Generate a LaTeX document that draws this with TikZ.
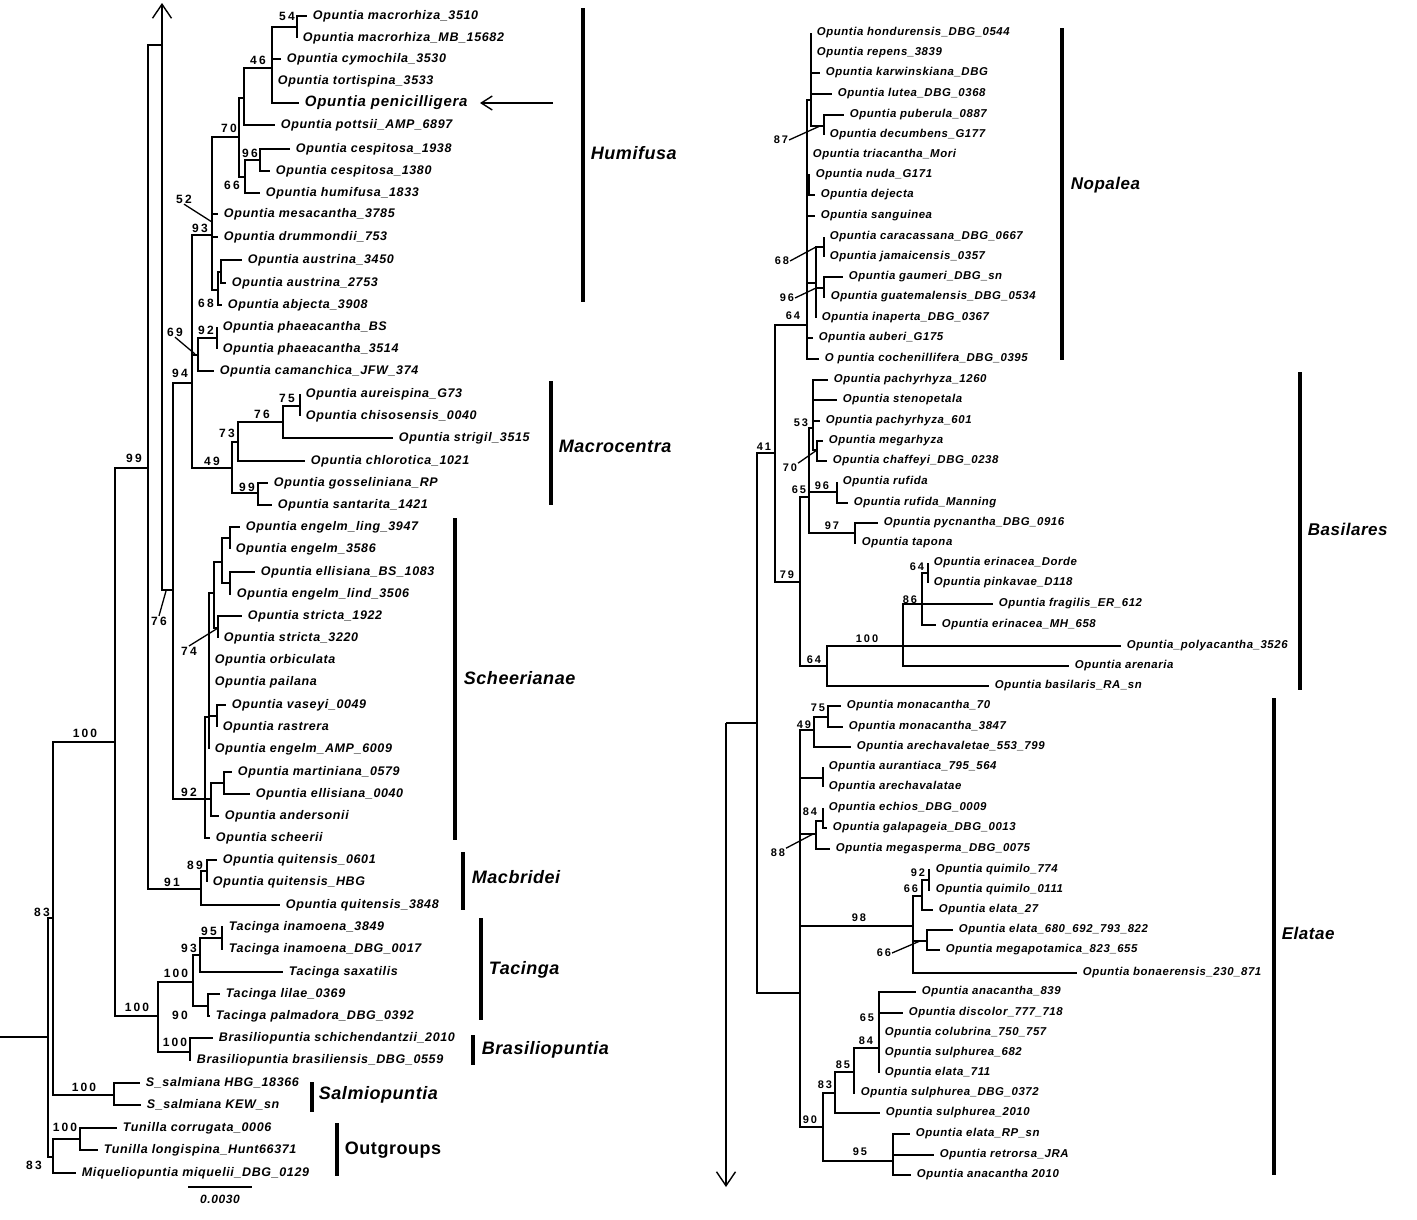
\documentclass[tikz,border=0pt]{standalone}
\usepackage{fontspec}
\setmainfont{Liberation Sans}
\newfontfamily\taxfont{Liberation Sans}[LetterSpace=5]
\newfontfamily\cladefont{Liberation Sans}[LetterSpace=3]
\newfontfamily\numfont{Liberation Sans}[LetterSpace=18]
\usetikzlibrary{arrows.meta}
\tikzset{
  tx/.style={anchor=west, inner xsep=5pt, inner ysep=0pt, font=\taxfont\bfseries\itshape\fontsize{12.5}{12.5}\selectfont},
  rtx/.style={tx, font=\taxfont\bfseries\itshape\fontsize{11.4}{11.4}\selectfont},
  bs/.style={inner sep=0pt, font=\numfont\bfseries\fontsize{12}{12}\selectfont},
  rbs/.style={bs, font=\numfont\bfseries\fontsize{11}{11}\selectfont},
  clade/.style={anchor=west, inner sep=0pt, font=\cladefont\bfseries\itshape\fontsize{18}{18}\selectfont},
  rclade/.style={clade, font=\cladefont\bfseries\itshape\fontsize{17}{17}\selectfont},
  bar/.style={line width=3.2pt},
  lead/.style={line width=1.3pt},
  barb/.style={-{Straight Barb[length=14pt,width=19pt,line width=1.4pt]}}
}
\begin{document}
\begin{tikzpicture}[x=1pt, y=-1pt, line width=1.8pt]
    \useasboundingbox (0,0) rectangle (1417,1219);
    % left tree, backbone
    \coordinate (root) at (0,1037);
    \coordinate (LA) at (48,1037);
    \coordinate (LB) at (53,918);
    \coordinate (LO) at (53,1157);
    \coordinate (LC) at (115,742);
    \coordinate (LS) at (114,1095);
    \coordinate (LD) at (148,468);
    \coordinate (LT) at (158,1016);
    \coordinate (LE) at (162,45);
    \coordinate (Ltop) at (162,3);
    \coordinate (LM) at (201,889);
    \coordinate (LF) at (173,590);
    \coordinate (LG) at (192,383);
    \coordinate (LH) at (212,235);
    \coordinate (L70) at (239,137);
    \coordinate (L244) at (244,98);
    \coordinate (L46) at (272,68);
    \coordinate (L54) at (297,27);
    \coordinate (L66) at (245,177);
    \coordinate (L96) at (260,160);
    \coordinate (L68) at (218,290);
    \coordinate (Laus) at (221,272);
    \coordinate (L69) at (198,355);
    \coordinate (L92p) at (217,338);
    \coordinate (L49) at (232,468);
    \coordinate (L73) at (238,442);
    \coordinate (L76m) at (283,422);
    \coordinate (L75) at (300,406);
    \coordinate (L99) at (258,493);
    \coordinate (L92s) at (205,799);
    \coordinate (Lsch1) at (209,717);
    \coordinate (Lsch2) at (214,593);
    \coordinate (Lsch3) at (222,562);
    \coordinate (Lling) at (230,538);
    \coordinate (Lell) at (230,583);
    \coordinate (L74) at (218,628);
    \coordinate (Lvas) at (217,716);
    \coordinate (Lmart) at (211,799);
    \coordinate (Lm2) at (224,783);
    \coordinate (L89) at (207,871);
    \coordinate (LTac) at (193,982);
    \coordinate (L93) at (200,955);
    \coordinate (L95) at (222,938);
    \coordinate (L90) at (208,1006);
    \coordinate (LBra) at (190,1052);
    \coordinate (LTun) at (80,1139);

    % left tree, taxa
    \node[tx] (mac1) at (307,16) {Opuntia macrorhiza\_3510};
    \node[tx] (mac2) at (297,38) {Opuntia macrorhiza\_MB\_15682};
    \node[tx] (cym) at (281,59) {Opuntia cymochila\_3530};
    \node[tx] (tor) at (272,81) {Opuntia tortispina\_3533};
    \node[tx, font=\taxfont\bfseries\itshape\fontsize{15}{15}\selectfont] (pen) at (299,103) {Opuntia penicilligera};
    \node[tx] (pot) at (275,125) {Opuntia pottsii\_AMP\_6897};
    \node[tx] (ces1) at (290,149) {Opuntia cespitosa\_1938};
    \node[tx] (ces2) at (270,171) {Opuntia cespitosa\_1380};
    \node[tx] (hum) at (260,193) {Opuntia humifusa\_1833};
    \node[tx] (mes) at (218,214) {Opuntia mesacantha\_3785};
    \node[tx] (dru) at (218,237) {Opuntia drummondii\_753};
    \node[tx] (aus1) at (242,260) {Opuntia austrina\_3450};
    \node[tx] (aus2) at (226,283) {Opuntia austrina\_2753};
    \node[tx] (abj) at (222,305) {Opuntia abjecta\_3908};
    \node[tx] (pha1) at (217,327) {Opuntia phaeacantha\_BS};
    \node[tx] (pha2) at (217,349) {Opuntia phaeacantha\_3514};
    \node[tx] (cam) at (214,371) {Opuntia camanchica\_JFW\_374};
    \node[tx] (aur) at (300,394) {Opuntia aureispina\_G73};
    \node[tx] (chi) at (300,416) {Opuntia chisosensis\_0040};
    \node[tx] (str) at (393,438) {Opuntia strigil\_3515};
    \node[tx] (chl) at (305,461) {Opuntia chlorotica\_1021};
    \node[tx] (gos) at (268,483) {Opuntia gosseliniana\_RP};
    \node[tx] (san) at (272,505) {Opuntia santarita\_1421};
    \node[tx] (eng1) at (240,527) {Opuntia engelm\_ling\_3947};
    \node[tx] (eng2) at (230,549) {Opuntia engelm\_3586};
    \node[tx] (ell1) at (255,572) {Opuntia ellisiana\_BS\_1083};
    \node[tx] (eng3) at (231,594) {Opuntia engelm\_lind\_3506};
    \node[tx] (stc1) at (242,616) {Opuntia stricta\_1922};
    \node[tx] (stc2) at (218,638) {Opuntia stricta\_3220};
    \node[tx] (orb) at (209,660) {Opuntia orbiculata};
    \node[tx] (pai) at (209,682) {Opuntia pailana};
    \node[tx] (vas) at (226,705) {Opuntia vaseyi\_0049};
    \node[tx] (ras) at (217,727) {Opuntia rastrera};
    \node[tx] (eng4) at (209,749) {Opuntia engelm\_AMP\_6009};
    \node[tx] (mar) at (232,772) {Opuntia martiniana\_0579};
    \node[tx] (ell2) at (250,794) {Opuntia ellisiana\_0040};
    \node[tx] (and) at (219,816) {Opuntia andersonii};
    \node[tx] (sch) at (210,838) {Opuntia scheerii};
    \node[tx] (qui1) at (217,860) {Opuntia quitensis\_0601};
    \node[tx] (qui2) at (207,882) {Opuntia quitensis\_HBG};
    \node[tx] (qui3) at (280,905) {Opuntia quitensis\_3848};
    \node[tx] (tac1) at (223,927) {Tacinga inamoena\_3849};
    \node[tx] (tac2) at (223,949) {Tacinga inamoena\_DBG\_0017};
    \node[tx] (tac3) at (283,972) {Tacinga saxatilis};
    \node[tx] (tac4) at (220,994) {Tacinga lilae\_0369};
    \node[tx] (tac5) at (210,1016) {Tacinga palmadora\_DBG\_0392};
    \node[tx] (bra1) at (213,1038) {Brasiliopuntia schichendantzii\_2010};
    \node[tx] (bra2) at (191,1060) {Brasiliopuntia brasiliensis\_DBG\_0559};
    \node[tx] (sal1) at (140,1083) {S\_salmiana HBG\_18366};
    \node[tx] (sal2) at (141,1105) {S\_salmiana KEW\_sn};
    \node[tx] (tun1) at (117,1128) {Tunilla corrugata\_0006};
    \node[tx] (tun2) at (98,1150) {Tunilla longispina\_Hunt66371};
    \node[tx] (miq) at (76,1173) {Miqueliopuntia miquelii\_DBG\_0129};

    % left tree, branches
    \draw (root) -- (LA);
    \draw (LA) |- (LB) (LA) |- (LO);
    \draw (LB) |- (LC) (LB) |- (LS);
    \draw (LC) |- (LD) (LC) |- (LT);
    \draw (LD) |- (LE) (LD) |- (LM);
    \draw[barb] (LE) -- (Ltop);
    \draw (LE) |- (LF);
    \draw (LF) |- (LG) (LF) |- (L92s);
    \draw (LG) |- (LH) (LG) |- (L69) (LG) |- (L49);
    \draw (LH) |- (L70) (LH) |- (mes.west) (LH) |- (dru.west) (LH) |- (L68);
    \draw (L70) |- (L244) (L70) |- (L66);
    \draw (L244) |- (L46) (L244) |- (pot.west);
    \draw (L46) |- (L54) (L46) |- (cym.west) (L46) |- (tor.west) (L46) |- (pen.west);
    \draw (L54) |- (mac1.west) (L54) |- (mac2.west);
    \draw (L66) |- (L96) (L66) |- (hum.west);
    \draw (L96) |- (ces1.west) (L96) |- (ces2.west);
    \draw (L68) |- (Laus) (L68) |- (abj.west);
    \draw (Laus) |- (aus1.west) (Laus) |- (aus2.west);
    \draw (L69) |- (L92p) (L69) |- (cam.west);
    \draw (L92p) |- (pha1.west) (L92p) |- (pha2.west);
    \draw (L49) |- (L73) (L49) |- (L99);
    \draw (L73) |- (L76m) (L73) |- (chl.west);
    \draw (L76m) |- (L75) (L76m) |- (str.west);
    \draw (L75) |- (aur.west) (L75) |- (chi.west);
    \draw (L99) |- (gos.west) (L99) |- (san.west);
    \draw (L92s) |- (Lsch1) (L92s) |- (Lmart) (L92s) |- (sch.west);
    \draw (Lsch1) |- (Lsch2) (Lsch1) |- (orb.west) (Lsch1) |- (pai.west) (Lsch1) |- (Lvas) (Lsch1) |- (eng4.west);
    \draw (Lsch2) |- (Lsch3) (Lsch2) |- (L74);
    \draw (Lsch3) |- (Lling) (Lsch3) |- (Lell);
    \draw (Lling) |- (eng1.west) (Lling) |- (eng2.west);
    \draw (Lell) |- (ell1.west) (Lell) |- (eng3.west);
    \draw (L74) |- (stc1.west) (L74) |- (stc2.west);
    \draw (Lvas) |- (vas.west) (Lvas) |- (ras.west);
    \draw (Lmart) |- (Lm2) (Lmart) |- (and.west);
    \draw (Lm2) |- (mar.west) (Lm2) |- (ell2.west);
    \draw (LM) |- (L89) (LM) |- (qui3.west);
    \draw (L89) |- (qui1.west) (L89) |- (qui2.west);
    \draw (LT) |- (LTac) (LT) |- (LBra);
    \draw (LTac) |- (L93) (LTac) |- (L90);
    \draw (L93) |- (L95) (L93) |- (tac3.west);
    \draw (L95) |- (tac1.west) (L95) |- (tac2.west);
    \draw (L90) |- (tac4.west) (L90) |- (tac5.west);
    \draw (LBra) |- (bra1.west) (LBra) |- (bra2.west);
    \draw (LS) |- (sal1.west) (LS) |- (sal2.west);
    \draw (LO) |- (LTun) (LO) |- (miq.west);
    \draw (LTun) |- (tun1.west) (LTun) |- (tun2.west);

    % left tree, support values
    \node[bs] (b54) at (287,16) {54};
    \node[bs] (b46) at (258,60) {46};
    \node[bs] (b70) at (229,128) {70};
    \node[bs] (b96) at (250,153) {96};
    \node[bs] (b66) at (232,185) {66};
    \node[bs] (b52) at (184,199) {52};
    \node[bs] (b93) at (200,228) {93};
    \node[bs] (b68) at (206,303) {68};
    \node[bs] (b69) at (175,332) {69};
    \node[bs] (b92p) at (206,330) {92};
    \node[bs] (b94) at (180,373) {94};
    \node[bs] (b75) at (287,398) {75};
    \node[bs] (b76m) at (262,414) {76};
    \node[bs] (b73) at (227,433) {73};
    \node[bs] (b49) at (212,461) {49};
    \node[bs] (b99) at (247,487) {99};
    \node[bs] (b99b) at (134,458) {99};
    \node[bs] (b76) at (159,621) {76};
    \node[bs] (b74) at (189,651) {74};
    \node[bs] (b100a) at (85,733) {100};
    \node[bs] (b92s) at (189,792) {92};
    \node[bs] (b89) at (195,865) {89};
    \node[bs] (b91) at (172,882) {91};
    \node[bs] (b83a) at (42,912) {83};
    \node[bs] (b95) at (209,931) {95};
    \node[bs] (b93t) at (189,948) {93};
    \node[bs] (b100t) at (176,973) {100};
    \node[bs] (b100b) at (137,1007) {100};
    \node[bs] (b90) at (180,1015) {90};
    \node[bs] (b100r) at (175,1042) {100};
    \node[bs] (b100s) at (84,1087) {100};
    \node[bs] (b100o) at (65,1127) {100};
    \node[bs] (b83b) at (34,1165) {83};
    \coordinate (k52) at (212,222);
    \coordinate (k69) at (195,354);
    \coordinate (k76) at (166,591);
    \coordinate (k74) at (218,628);
    \draw[lead] (b52.south) -- (k52);
    \draw[lead] (b69.south) -- (k69);
    \draw[lead] (b76.north) -- (k76);
    \draw[lead] (b74.north) -- (k74);

    % scale bar
    \coordinate (sb1) at (188,1187);
    \coordinate (sb2) at (252,1187);
    \draw (sb1) -- (sb2);
    \node[bs, font=\taxfont\bfseries\itshape\fontsize{12}{12}\selectfont] (sbl) at (220,1199) {0.0030};

    % right tree, backbone
    \coordinate (R0) at (726,723);
    \coordinate (Rbot) at (726,1187);
    \coordinate (R1) at (757,723);
    \coordinate (R41) at (775,453);
    \coordinate (Rel) at (800,993);
    \coordinate (RNop) at (807,325);
    \coordinate (R79) at (800,582);
    \coordinate (R811) at (811,100);
    \coordinate (R87) at (824,126);
    \coordinate (Rnuda) at (809,186);
    \coordinate (R816) at (816,283);
    \coordinate (R68) at (824,247);
    \coordinate (R96) at (824,288);
    \coordinate (R65) at (809,497);
    \coordinate (R53) at (813,428);
    \coordinate (R70) at (817,450);
    \coordinate (R96b) at (837,492);
    \coordinate (R97) at (855,533);
    \coordinate (R64b) at (827,666);
    \coordinate (R100) at (903,646);
    \coordinate (R86) at (922,604);
    \coordinate (R64c) at (928,573);
    \coordinate (R49) at (814,730);
    \coordinate (R75) at (828,717);
    \coordinate (Raur) at (823,778);
    \coordinate (R88) at (816,834);
    \coordinate (R84) at (823,821);
    \coordinate (R98) at (913,926);
    \coordinate (R66a) at (922,896);
    \coordinate (R92) at (929,880);
    \coordinate (R66b) at (927,941);
    \coordinate (R90) at (823,1127);
    \coordinate (R83) at (835,1093);
    \coordinate (R85) at (854,1072);
    \coordinate (R84b) at (879,1048);
    \coordinate (R95) at (893,1161);

    % right tree, taxa
    \node[rtx] (hon) at (811,33) {Opuntia hondurensis\_DBG\_0544};
    \node[rtx] (rep) at (811,53) {Opuntia repens\_3839};
    \node[rtx] (kar) at (820,73) {Opuntia karwinskiana\_DBG};
    \node[rtx] (lut) at (832,94) {Opuntia lutea\_DBG\_0368};
    \node[rtx] (pub) at (844,115) {Opuntia puberula\_0887};
    \node[rtx] (dec) at (824,135) {Opuntia decumbens\_G177};
    \node[rtx] (tri) at (807,155) {Opuntia triacantha\_Mori};
    \node[rtx] (nud) at (810,175) {Opuntia nuda\_G171};
    \node[rtx] (dej) at (815,195) {Opuntia dejecta};
    \node[rtx] (sang) at (815,216) {Opuntia sanguinea};
    \node[rtx] (car) at (824,237) {Opuntia caracassana\_DBG\_0667};
    \node[rtx] (jam) at (824,257) {Opuntia jamaicensis\_0357};
    \node[rtx] (gau) at (843,277) {Opuntia gaumeri\_DBG\_sn};
    \node[rtx] (gua) at (825,297) {Opuntia guatemalensis\_DBG\_0534};
    \node[rtx] (ina) at (816,318) {Opuntia inaperta\_DBG\_0367};
    \node[rtx] (aub) at (813,338) {Opuntia auberi\_G175};
    \node[rtx] (coc) at (819,359) {O puntia cochenillifera\_DBG\_0395};
    \node[rtx] (pac1) at (828,380) {Opuntia pachyrhyza\_1260};
    \node[rtx] (ste) at (837,400) {Opuntia stenopetala};
    \node[rtx] (pac2) at (820,421) {Opuntia pachyrhyza\_601};
    \node[rtx] (meg) at (823,441) {Opuntia megarhyza};
    \node[rtx] (cha) at (827,461) {Opuntia chaffeyi\_DBG\_0238};
    \node[rtx] (ruf1) at (837,482) {Opuntia rufida};
    \node[rtx] (ruf2) at (848,503) {Opuntia rufida\_Manning};
    \node[rtx] (pyc) at (878,523) {Opuntia pycnantha\_DBG\_0916};
    \node[rtx] (tap) at (856,543) {Opuntia tapona};
    \node[rtx] (eri1) at (928,563) {Opuntia erinacea\_Dorde};
    \node[rtx] (pin) at (928,583) {Opuntia pinkavae\_D118};
    \node[rtx] (fra) at (993,604) {Opuntia fragilis\_ER\_612};
    \node[rtx] (eri2) at (936,625) {Opuntia erinacea\_MH\_658};
    \node[rtx] (pol) at (1121,646) {Opuntia\_polyacantha\_3526};
    \node[rtx] (are) at (1069,666) {Opuntia arenaria};
    \node[rtx] (bas) at (989,686) {Opuntia basilaris\_RA\_sn};
    \node[rtx] (mon1) at (841,706) {Opuntia monacantha\_70};
    \node[rtx] (mon2) at (843,727) {Opuntia monacantha\_3847};
    \node[rtx] (arc1) at (851,747) {Opuntia arechavaletae\_553\_799};
    \node[rtx] (aua) at (823,767) {Opuntia aurantiaca\_795\_564};
    \node[rtx] (arc2) at (823,787) {Opuntia arechavalatae};
    \node[rtx] (ech) at (823,808) {Opuntia echios\_DBG\_0009};
    \node[rtx] (gal) at (827,828) {Opuntia galapageia\_DBG\_0013};
    \node[rtx] (mgs) at (830,849) {Opuntia megasperma\_DBG\_0075};
    \node[rtx] (qum1) at (930,870) {Opuntia quimilo\_774};
    \node[rtx] (qum2) at (930,890) {Opuntia quimilo\_0111};
    \node[rtx] (ela1) at (933,910) {Opuntia elata\_27};
    \node[rtx] (ela2) at (953,930) {Opuntia elata\_680\_692\_793\_822};
    \node[rtx] (mgp) at (940,950) {Opuntia megapotamica\_823\_655};
    \node[rtx] (bon) at (1077,973) {Opuntia bonaerensis\_230\_871};
    \node[rtx] (ana1) at (916,992) {Opuntia anacantha\_839};
    \node[rtx] (dis) at (903,1013) {Opuntia discolor\_777\_718};
    \node[rtx] (col) at (879,1033) {Opuntia colubrina\_750\_757};
    \node[rtx] (sul1) at (879,1053) {Opuntia sulphurea\_682};
    \node[rtx] (ela3) at (879,1073) {Opuntia elata\_711};
    \node[rtx] (sul2) at (855,1093) {Opuntia sulphurea\_DBG\_0372};
    \node[rtx] (sul3) at (880,1113) {Opuntia sulphurea\_2010};
    \node[rtx] (ela4) at (910,1134) {Opuntia elata\_RP\_sn};
    \node[rtx] (ret) at (934,1155) {Opuntia retrorsa\_JRA};
    \node[rtx] (ana2) at (911,1175) {Opuntia anacantha 2010};

    % right tree, branches
    \draw (R0) -- (R1);
    \draw[barb] (R0) -- (Rbot);
    \draw (R1) |- (R41) (R1) |- (Rel);
    \draw (R41) |- (RNop) (R41) |- (R79);
    \draw (RNop) |- (R811) (RNop) |- (tri.west) (RNop) |- (Rnuda) (RNop) |- (sang.west) (RNop) |- (R816) (RNop) |- (aub.west) (RNop) |- (coc.west);
    \draw (R811) |- (hon.west) (R811) |- (rep.west) (R811) |- (kar.west) (R811) |- (lut.west) (R811) |- (R87);
    \draw (R87) |- (pub.west) (R87) |- (dec.west);
    \draw (Rnuda) |- (nud.west) (Rnuda) |- (dej.west);
    \draw (R816) |- (R68) (R816) |- (R96) (R816) |- (ina.west);
    \draw (R68) |- (car.west) (R68) |- (jam.west);
    \draw (R96) |- (gau.west) (R96) |- (gua.west);
    \draw (R79) |- (R65) (R79) |- (R64b);
    \draw (R65) |- (R53) (R65) |- (R96b) (R65) |- (R97);
    \draw (R53) |- (pac1.west) (R53) |- (ste.west) (R53) |- (pac2.west) (R53) |- (R70);
    \draw (R70) |- (meg.west) (R70) |- (cha.west);
    \draw (R96b) |- (ruf1.west) (R96b) |- (ruf2.west);
    \draw (R97) |- (pyc.west) (R97) |- (tap.west);
    \draw (R64b) |- (R100) (R64b) |- (bas.west);
    \draw (R100) |- (R86) (R100) |- (pol.west) (R100) |- (are.west);
    \draw (R86) |- (R64c) (R86) |- (fra.west) (R86) |- (eri2.west);
    \draw (R64c) |- (eri1.west) (R64c) |- (pin.west);
    \draw (Rel) |- (R49) (Rel) |- (Raur) (Rel) |- (R88) (Rel) |- (R98) (Rel) |- (R90);
    \draw (R49) |- (R75) (R49) |- (arc1.west);
    \draw (R75) |- (mon1.west) (R75) |- (mon2.west);
    \draw (Raur) |- (aua.west) (Raur) |- (arc2.west);
    \draw (R88) |- (R84) (R88) |- (mgs.west);
    \draw (R84) |- (ech.west) (R84) |- (gal.west);
    \draw (R98) |- (R66a) (R98) |- (R66b) (R98) |- (bon.west);
    \draw (R66a) |- (R92) (R66a) |- (ela1.west);
    \draw (R92) |- (qum1.west) (R92) |- (qum2.west);
    \draw (R66b) |- (ela2.west) (R66b) |- (mgp.west);
    \draw (R90) |- (R83) (R90) |- (R95);
    \draw (R83) |- (R85) (R83) |- (sul3.west);
    \draw (R85) |- (R84b) (R85) |- (sul2.west);
    \draw (R84b) |- (ana1.west) (R84b) |- (dis.west) (R84b) |- (col.west) (R84b) |- (sul1.west) (R84b) |- (ela3.west);
    \draw (R95) |- (ela4.west) (R95) |- (ret.west) (R95) |- (ana2.west);

    % right tree, support values
    \node[rbs] (c87) at (781,140) {87};
    \node[rbs] (c68) at (782,261) {68};
    \node[rbs] (c96) at (787,298) {96};
    \node[rbs] (c64) at (793,316) {64};
    \node[rbs] (c41) at (764,447) {41};
    \node[rbs] (c53) at (801,423) {53};
    \node[rbs] (c70) at (790,468) {70};
    \node[rbs] (c65) at (799,490) {65};
    \node[rbs] (c96b) at (822,486) {96};
    \node[rbs] (c97) at (832,526) {97};
    \node[rbs] (c79) at (787,575) {79};
    \node[rbs] (c64c) at (917,567) {64};
    \node[rbs] (c86) at (910,600) {86};
    \node[rbs] (c100) at (867,639) {100};
    \node[rbs] (c64b) at (814,660) {64};
    \node[rbs] (c75) at (818,708) {75};
    \node[rbs] (c49) at (804,725) {49};
    \node[rbs] (c84) at (810,812) {84};
    \node[rbs] (c88) at (778,853) {88};
    \node[rbs] (c92) at (918,873) {92};
    \node[rbs] (c66a) at (911,889) {66};
    \node[rbs] (c98) at (859,918) {98};
    \node[rbs] (c66b) at (884,953) {66};
    \node[rbs] (c65b) at (867,1018) {65};
    \node[rbs] (c84b) at (866,1041) {84};
    \node[rbs] (c85) at (843,1065) {85};
    \node[rbs] (c83) at (825,1085) {83};
    \node[rbs] (c90) at (810,1120) {90};
    \node[rbs] (c95) at (860,1152) {95};
    \coordinate (k87) at (820,126);
    \coordinate (k68) at (816,247);
    \coordinate (k96) at (816,288);
    \coordinate (k70) at (817,450);
    \coordinate (k88) at (813,834);
    \coordinate (k66) at (920,941);
    \draw[lead] (c87.east) -- (k87);
    \draw[lead] (c68.east) -- (k68);
    \draw[lead] (c96.east) -- (k96);
    \draw[lead] (c70.north east) -- (k70);
    \draw[lead] (c88.north east) -- (k88);
    \draw[lead] (c66b.east) -- (k66);

    % clade bars
    \draw[bar] (583,8) -- (583,302);
    \node[clade] (hHum) at (590,153) {Humifusa};
    \draw[bar] (551,381) -- (551,505);
    \node[clade] (hMac) at (558,446) {Macrocentra};
    \draw[bar] (455,518) -- (455,840);
    \node[clade] (hSch) at (463,678) {Scheerianae};
    \draw[bar] (463,852) -- (463,910);
    \node[clade] (hMcb) at (471,877) {Macbridei};
    \draw[bar] (481,918) -- (481,1020);
    \node[clade] (hTac) at (488,970) {Tacinga};
    \draw[bar] (473,1035) -- (473,1065);
    \node[clade] (hBra) at (481,1050) {Brasiliopuntia};
    \draw[bar] (312,1082) -- (312,1112);
    \node[clade] (hSal) at (318,1095) {Salmiopuntia};
    \draw[bar] (337,1123) -- (337,1176);
    \node[clade, font=\cladefont\bfseries\fontsize{18}{18}\selectfont] (hOut) at (344,1150) {Outgroups};
    \draw[bar] (1062,28) -- (1062,360);
    \node[rclade] (hNop) at (1070,185) {Nopalea};
    \draw[bar] (1300,372) -- (1300,690);
    \node[rclade] (hBas) at (1307,529) {Basilares};
    \draw[bar] (1274,698) -- (1274,1175);
    \node[rclade] (hEla) at (1281,933) {Elatae};

    % pointer to the new sample
    \coordinate (penA) at (553,103);
    \coordinate (penB) at (480,103);
    \draw[line width=1.4pt, -{Straight Barb[length=11pt,width=14pt]}] (penA) -- (penB);
\end{tikzpicture}
\end{document}
